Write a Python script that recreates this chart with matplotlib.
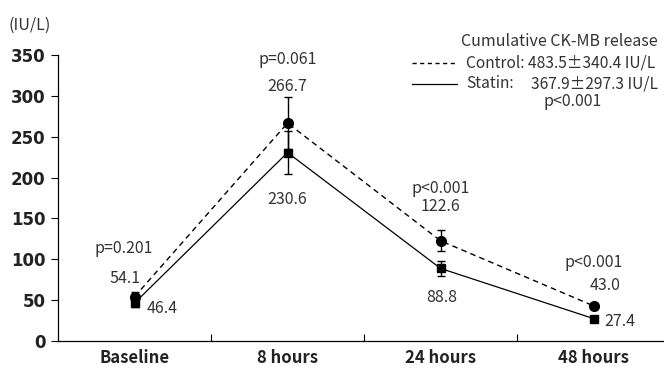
import matplotlib
matplotlib.use("Agg")
import matplotlib.pyplot as plt
from matplotlib.lines import Line2D

plt.rcParams['font.family'] = ['Noto Sans CJK KR', 'DejaVu Sans']

categories = ['Baseline', '8 hours', '24 hours', '48 hours']
control = [54.1, 266.7, 122.6, 43.0]
statin = [46.4, 230.6, 88.8, 27.4]
control_err = [6, 32, 13, 4]
statin_err = [5, 26, 9, 3]
control_labels = ['54.1', '266.7', '122.6', '43.0']
statin_labels = ['46.4', '230.6', '88.8', '27.4']
p_values = ['p=0.201', 'p=0.061', 'p<0.001', 'p<0.001']

W, H = 664, 371
fig = plt.figure(figsize=(W / 100, H / 100), dpi=100)
ax = fig.add_axes([58 / W, 30 / H, (W - 58) / W, 286 / H])

x = range(len(categories))
txt = '#333333'

ax.errorbar(x, control, yerr=control_err, color='black', ls='--', lw=1.0,
            dashes=(4, 3), marker='o', ms=7, capsize=3, elinewidth=1, capthick=1)
ax.errorbar(x, statin, yerr=statin_err, color='black', ls='-', lw=0.9,
            marker='s', ms=6, capsize=3, elinewidth=1, capthick=1)

ax.set_xlim(-0.5, 3.46)
ax.set_ylim(0, 350)
ax.set_yticks(range(0, 351, 50))
ax.set_xticks(list(x))
ax.set_xticklabels(categories, fontweight='bold', fontsize=12, color='#222222')
ax.set_xticks([0.5, 1.5, 2.5], minor=True)
ax.tick_params(axis='x', which='major', length=0, pad=6)
ax.tick_params(axis='x', which='minor', direction='in', length=5, width=0.8)
ax.tick_params(axis='y', length=5, width=0.8, pad=4)
for lab in ax.get_yticklabels():
    lab.set_fontweight('bold')
    lab.set_color('#222222')
    lab.set_fontsize(12)
    lab.set_family('DejaVu Sans')
for s in ['top', 'right']:
    ax.spines[s].set_visible(False)
for s in ['left', 'bottom']:
    ax.spines[s].set_linewidth(0.9)

fs = 11.5
# data annotations
ax.annotate(control_labels[0], (0, control[0]), xytext=(-7, 13), textcoords='offset points', ha='center', va='center', fontsize=fs, color=txt)
ax.annotate(statin_labels[0], (0, statin[0]), xytext=(20, -4), textcoords='offset points', ha='center', va='center', fontsize=fs, color=txt)
ax.annotate(p_values[0], (0, control[0]), xytext=(-8, 35), textcoords='offset points', ha='center', va='center', fontsize=fs, color=txt)

ax.annotate(control_labels[1], (1, control[1]), xytext=(0, 26), textcoords='offset points', ha='center', va='center', fontsize=fs, color=txt)
ax.annotate(p_values[1], (1, control[1]), xytext=(0, 46), textcoords='offset points', ha='center', va='center', fontsize=fs, color=txt)
ax.annotate(statin_labels[1], (1, statin[1]), xytext=(0, -34), textcoords='offset points', ha='center', va='center', fontsize=fs, color=txt)

ax.annotate(control_labels[2], (2, control[2]), xytext=(0, 25), textcoords='offset points', ha='center', va='center', fontsize=fs, color=txt)
ax.annotate(p_values[2], (2, control[2]), xytext=(0, 38), textcoords='offset points', ha='center', va='center', fontsize=fs, color=txt)
ax.annotate(statin_labels[2], (2, statin[2]), xytext=(1, -21), textcoords='offset points', ha='center', va='center', fontsize=fs, color=txt)

ax.annotate(control_labels[3], (3, control[3]), xytext=(8, 15), textcoords='offset points', ha='center', va='center', fontsize=fs, color=txt)
ax.annotate(p_values[3], (3, control[3]), xytext=(0, 31), textcoords='offset points', ha='center', va='center', fontsize=fs, color=txt)
ax.annotate(statin_labels[3], (3, statin[3]), xytext=(19, -2), textcoords='offset points', ha='center', va='center', fontsize=fs, color=txt)

# unit label
fig.text(8 / W, 1 - 25 / H, '(IU/L)', fontsize=fs, color=txt, ha='left', va='center')

# legend block
fig.text(658 / W, 1 - 42 / H, 'Cumulative CK-MB release', fontsize=fs, color=txt, ha='right', va='center')
fig.text(466 / W, 1 - 63 / H, 'Control: 483.5\u00b1340.4 IU/L', fontsize=11.2, color=txt, ha='left', va='center')
fig.text(466 / W, 1 - 84 / H, 'Statin:', fontsize=11.2, color=txt, ha='left', va='center')
fig.text(658 / W, 1 - 84 / H, '367.9\u00b1297.3 IU/L', fontsize=11.2, color=txt, ha='right', va='center')
fig.text(573 / W, 1 - 102 / H, 'p<0.001', fontsize=fs, color=txt, ha='center', va='center')
fig.add_artist(Line2D([412 / W, 457 / W], [1 - 63 / H, 1 - 63 / H], color='black', lw=1.0, ls='--', dashes=(3, 2.5)))
fig.add_artist(Line2D([412 / W, 457 / W], [1 - 84 / H, 1 - 84 / H], color='black', lw=0.9))

fig.savefig('out.png', dpi=100)
